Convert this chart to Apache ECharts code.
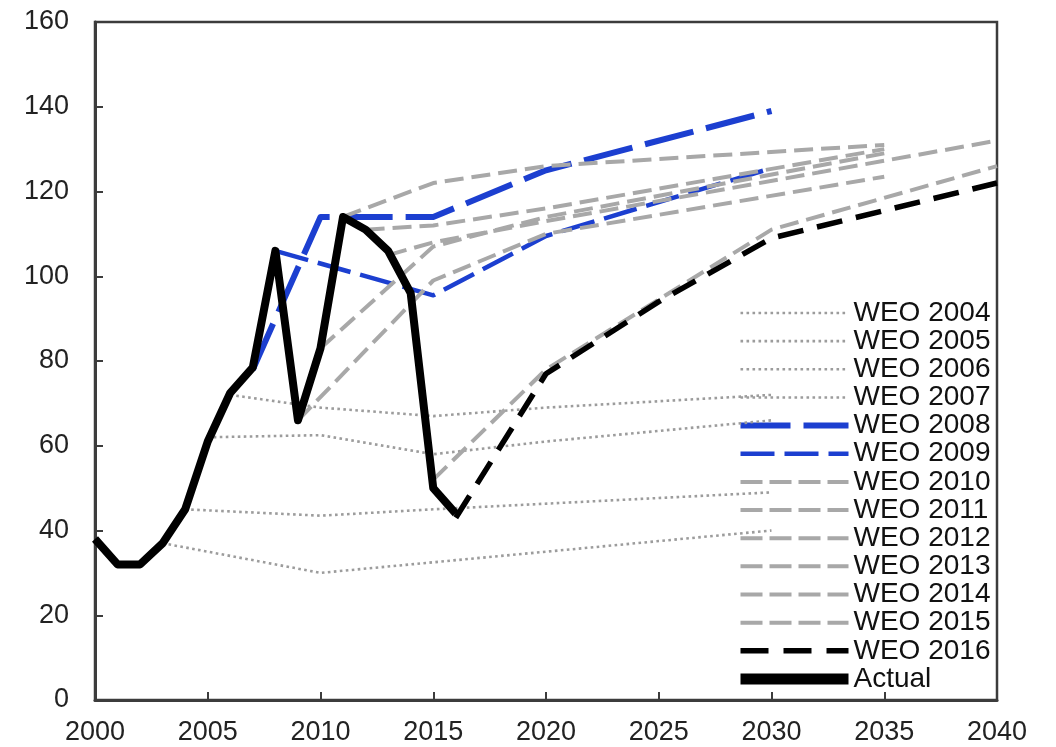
<!DOCTYPE html>
<html><head><meta charset="utf-8">
<script src="https://cdn.jsdelivr.net/npm/echarts@6/dist/echarts.min.js"></script>
<style>html,body{margin:0;padding:0;background:#fff}#c{width:1056px;height:747px}</style>
</head><body><div id="c"></div>
<script>
// ---- data (year, value) ----
const weo2004 = [[2003,37],[2010,30],[2020,35],[2030,40]];
const weo2005 = [[2004,45],[2010,43.5],[2015,45],[2030,49]];
const weo2006 = [[2005,62],[2010,62.5],[2015,58],[2020,61],[2030,66]];
const weo2007 = [[2006,72],[2010,69],[2015,67],[2020,69],[2030,72]];
const weo2008 = [[2007,78],[2010,114],[2015,114],[2020,125],[2030,139]];
const weo2009 = [[2008,106],[2015,95.5],[2020,109.5],[2030,125.5]];
const weo2010 = [[2009,66],[2015,99],[2020,110],[2035,123.5]];
const weo2011 = [[2010,83],[2015,107],[2020,114],[2035,129]];
const weo2012 = [[2011,114],[2015,122],[2020,126],[2035,131]];
const weo2013 = [[2012,111],[2015,112],[2020,116],[2035,130]];
const weo2014 = [[2013,105],[2015,108],[2020,113],[2040,132]];
const weo2015 = [[2015,52],[2020,78],[2030,111],[2040,126]];
const weo2016 = [[2016,43],[2020,77],[2025,94],[2030,109],[2040,122]];
const actual  = [[2000,38],[2001,32],[2002,32],[2003,37],[2004,45],[2005,61],[2006,72.5],[2007,78.5],[2008,106],[2009,66],[2010,83],[2011,114],[2012,111],[2013,106],[2014,96],[2015,50],[2016,44]];
const xTicks = [2000, 2040, 5];
const yTicks = [0, 160, 20];

const seriesNames = ['WEO 2004','WEO 2005','WEO 2006','WEO 2007','WEO 2008','WEO 2009','WEO 2010','WEO 2011','WEO 2012','WEO 2013','WEO 2014','WEO 2015','WEO 2016','Actual'];
const seriesData = [weo2004,weo2005,weo2006,weo2007,weo2008,weo2009,weo2010,weo2011,weo2012,weo2013,weo2014,weo2015,weo2016,actual];

// ---- styles ----
const dotted = {color:'#9c9c9c', width:2.6, type:[2.6,3.4]};
const grayDash = {color:'#a8a8a8', width:4, type:[19,8]};
const styles = [dotted,dotted,dotted,dotted,
  {color:'#1c3fd0', width:6, type:[50,13]},
  {color:'#1c3fd0', width:4.5, type:[34,10]},
  grayDash,grayDash,grayDash,grayDash,grayDash,grayDash,
  {color:'#000', width:5.5, type:[26,14]},
  {color:'#000', width:8, type:'solid'}];
const legendStyles = styles.map((s,i)=> seriesNames[i]==='Actual' ? Object.assign({}, s, {width:11}) :
  (seriesNames[i]==='WEO 2010'||seriesNames[i].match(/201[1-5]/)) ? Object.assign({}, s, {type:[22,7]}) :
  seriesNames[i]==='WEO 2016' ? Object.assign({}, s, {type:[28,15]}) : s);

const FONT = '"Liberation Sans", Arial, sans-serif';
const chart = echarts.init(document.getElementById('c'), null, {renderer:'canvas'});
chart.setOption({
  animation:false,
  backgroundColor:'#fff',
  grid:{left:95, right:59, top:22, bottom:47, show:true, borderColor:'#3c3c3c', borderWidth:2.5, containLabel:false},
  xAxis:{type:'value', min:xTicks[0], max:xTicks[1], interval:xTicks[2],
    axisLine:{show:true, lineStyle:{color:'#3c3c3c', width:3}},
    axisTick:{show:true, inside:true, length:8, lineStyle:{color:'#3c3c3c', width:2}},
    axisLabel:{fontSize:27, color:'#222', fontFamily:FONT, margin:19, formatter:v=>String(v)},
    splitLine:{show:false}},
  yAxis:{type:'value', min:yTicks[0], max:yTicks[1], interval:yTicks[2],
    axisLine:{show:true, lineStyle:{color:'#3c3c3c', width:3}},
    axisTick:{show:true, inside:true, length:8, lineStyle:{color:'#3c3c3c', width:2}},
    axisLabel:{fontSize:27, color:'#222', fontFamily:FONT, margin:26},
    splitLine:{show:false}},
  legend:{orient:'vertical', left:735, top:299, padding:0, itemWidth:108, itemHeight:14, itemGap:0.15,
    itemStyle:{opacity:0},
    textStyle:{fontSize:28, color:'#111', fontFamily:FONT, lineHeight:28},
    data: seriesNames.map((n,i)=>({name:n, itemStyle:{opacity:0},
      lineStyle:{color:legendStyles[i].color, width:legendStyles[i].width, type:legendStyles[i].type, opacity:1}}))},
  series: seriesNames.map((n,i)=>({
    name:n, type:'line', data:seriesData[i], symbol:'none', smooth:false,
    itemStyle:{color:styles[i].color},
    lineStyle:Object.assign({cap:'butt', join:'round'}, styles[i]),
    z: 2 + i
  }))
});
</script></body></html>
